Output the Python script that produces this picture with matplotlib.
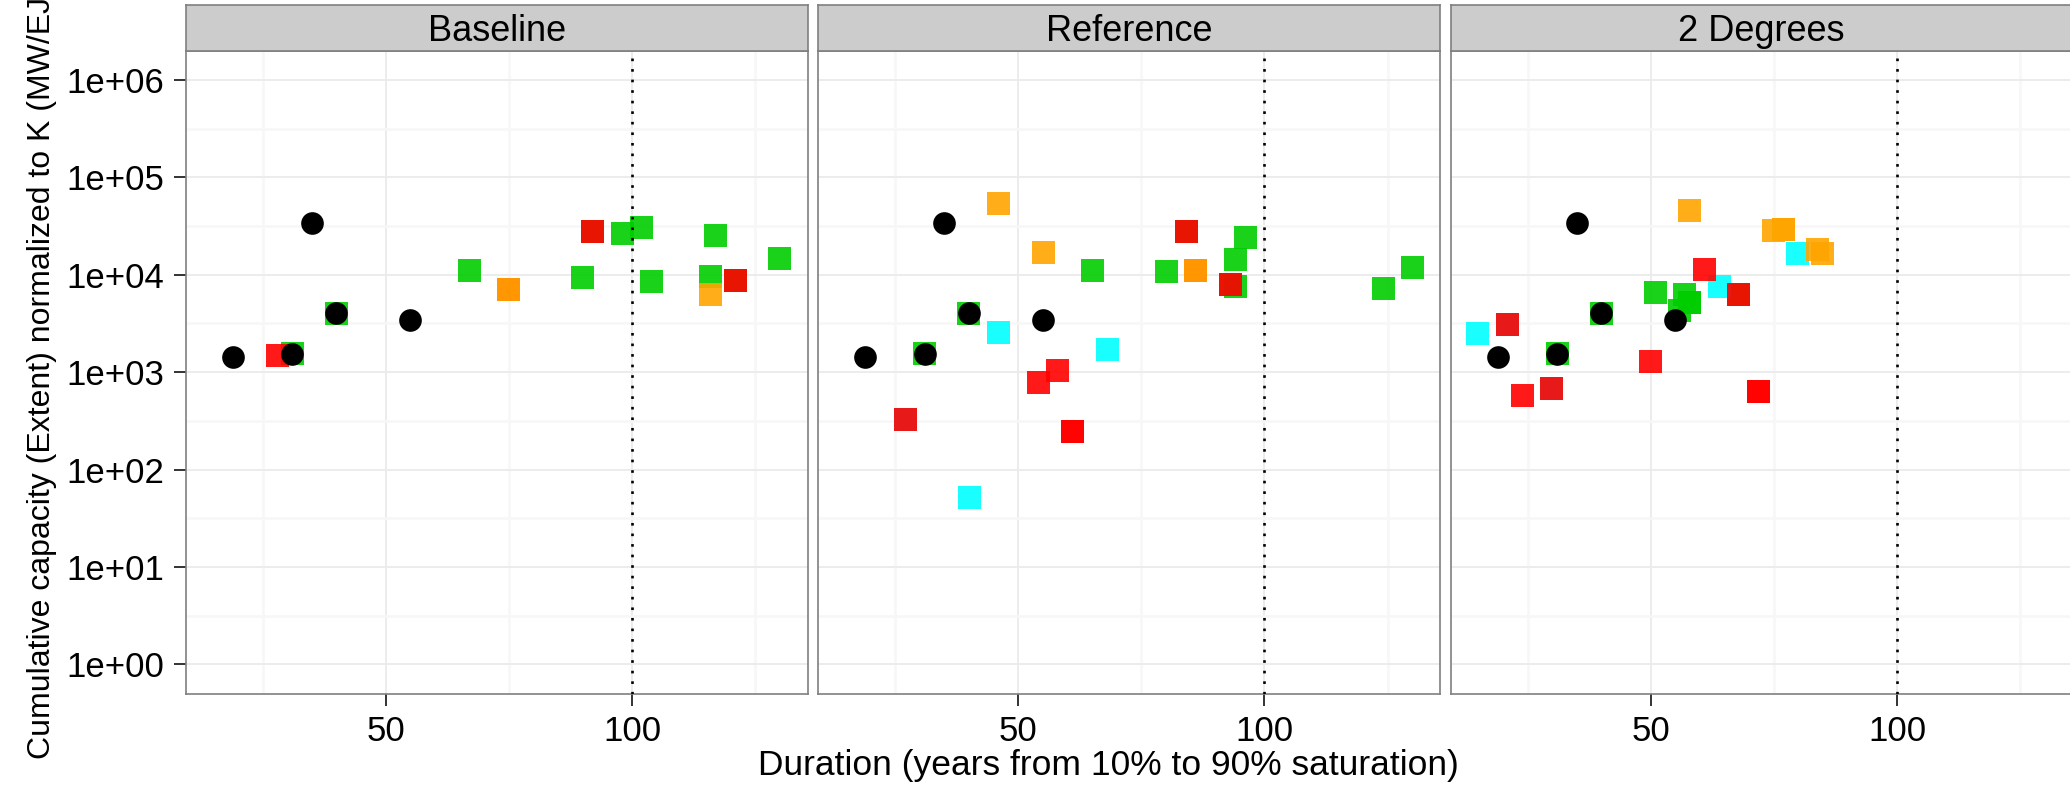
import matplotlib
matplotlib.use("Agg")
import matplotlib.pyplot as plt
from matplotlib.ticker import FixedLocator, NullFormatter

plt.rcParams['font.family'] = ['Liberation Sans', 'DejaVu Sans']

# ---------------- data ----------------
scenarios = ["Baseline", "Reference", "2 Degrees"]

# historical (black circles), identical in every panel
hist_x = [19.0, 31.0, 35.0, 40.0, 55.0]
hist_y = [1440, 1550, 33800, 4020, 3460]

# model results per scenario (drawn in list order)
base_x = [31.0, 40.0, 67.0, 89.95, 92.0, 98.07, 101.93, 103.96, 115.93, 116.95, 121.0, 129.94,
          74.9, 28.0, 92.0, 121.0,
          74.9, 115.93]
base_y = [1550, 4020, 11060, 9370, 27800, 26550, 30550, 8530, 9600, 25300, 8730, 14700,
          7060, 1483, 27800, 8730,
          7060, 6270]
base_tech = ["green"] * 12 + ["red"] * 4 + ["orange"] * 2

ref_x = [31.0, 40.0, 65.06, 80.09, 84.15, 93.08, 94.09, 94.09, 96.12, 124.1, 130.0,
         27.1, 40.1, 45.98, 68.11,
         85.97, 27.1, 57.96, 54.1, 61.0, 61.0, 84.15, 93.08,
         45.98, 55.12, 85.97]
ref_y = [1550, 4020, 11060, 10800, 27800, 7940, 7570, 14360, 24150, 7230, 11890,
         327, 51.6, 2553, 1710,
         11060, 327, 1040, 783, 246, 246, 27800, 7940,
         53900, 16930, 11060]
ref_tech = ["green"] * 11 + ["cyan"] * 4 + ["red"] * 8 + ["orange"] * 3

deg2_x = [31.0, 40.0, 51.06, 55.93, 56.94, 57.96, 57.96, 67.9,
          14.92, 21.01, 29.94, 64.05, 79.88,
          21.01, 24.06, 29.94, 50.04, 71.97, 71.97, 61.0, 67.9,
          57.96, 75.0, 77.04, 77.04, 83.94, 84.96]
deg2_y = [1550, 4020, 6580, 4300, 6270, 5190, 5190, 6270,
          2494, 3084, 679, 7570, 16520,
          3084, 576, 679, 1285, 633, 633, 11320, 6270,
          45700, 28500, 29200, 29200, 18150, 16520]
deg2_tech = ["green"] * 8 + ["cyan"] * 5 + ["red"] * 8 + ["orange"] * 6

panel_x = [base_x, ref_x, deg2_x]
panel_y = [base_y, ref_y, deg2_y]
panel_tech = [base_tech, ref_tech, deg2_tech]

x_major = [50, 100]
x_labels = ["50", "100"]
x_minor = [25, 75, 125]
y_major = [1, 10, 100, 1000, 1e4, 1e5, 1e6]
y_labels = ["1e+00", "1e+01", "1e+02", "1e+03", "1e+04", "1e+05", "1e+06"]
y_minor = [10 ** (k + 0.5) for k in range(6)]
vline_x = 100

xlabel = "Duration (years from 10% to 90% saturation)"
ylabel = "Cumulative capacity (Extent) normalized to K (MW/EJ)"

# ---------------- style ----------------
tech_colors = {"green": "#00CD00", "cyan": "#00FFFF", "red": "#FF0000", "orange": "#FFA500"}

W, H, DPI = 2070, 786, 100
fig = plt.figure(figsize=(W / DPI, H / DPI), dpi=DPI)
fig.patch.set_facecolor("white")


def fx(px):
    return px / W


def fy(py):
    return 1 - py / H


panel_left = [185.7, 818.2, 1450.7]
panel_w = 622.0
top, bot = 50.8, 693.5
strip_top = 5.0
border = "#7F7F7F"

for i, name in enumerate(scenarios):
    L = panel_left[i]
    ax = fig.add_axes([fx(L), fy(bot), panel_w / W, (bot - top) / H])
    ax.set_xlim(9.4, 135.67)
    ax.set_yscale("log")
    ax.set_ylim(10 ** -0.3, 10 ** 6.3)

    ax.xaxis.set_major_locator(FixedLocator(x_major))
    ax.xaxis.set_minor_locator(FixedLocator(x_minor))
    ax.set_xticklabels(x_labels)
    ax.xaxis.set_minor_formatter(NullFormatter())
    ax.yaxis.set_major_locator(FixedLocator(y_major))
    ax.yaxis.set_minor_locator(FixedLocator(y_minor))
    ax.yaxis.set_minor_formatter(NullFormatter())
    if i == 0:
        ax.set_yticklabels(y_labels)
    else:
        ax.set_yticklabels([])

    ax.grid(which="major", color="#EBEBEB", lw=1.3)
    ax.grid(which="minor", color="#F7F7F7", lw=1.8)
    ax.set_axisbelow(True)

    ax.tick_params(axis="x", which="major", length=8.6, width=1.4, color="#333333",
                   labelsize=25, pad=7, labelcolor="black")
    ax.tick_params(axis="y", which="major", length=8.6 if i == 0 else 0, width=1.4,
                   color="#333333", labelsize=25, pad=7, labelcolor="black")
    ax.tick_params(which="minor", length=0)

    for sp in ax.spines.values():
        sp.set_color(border)
        sp.set_linewidth(1.2)

    cols = [tech_colors[t] for t in panel_tech[i]]
    ax.scatter(panel_x[i], panel_y[i], marker="s", s=274, c=cols, alpha=0.9,
               linewidths=0, zorder=3)
    ax.scatter(hist_x, hist_y, marker="o", s=266, c="black", linewidths=0, zorder=4)
    ax.axvline(vline_x, color="black", lw=1.9, linestyle=(0, (1, 3)), zorder=5)

    sax = fig.add_axes([fx(L), fy(top), panel_w / W, (top - strip_top) / H])
    sax.set_facecolor("#CCCCCC")
    sax.set_xticks([])
    sax.set_yticks([])
    for sp in sax.spines.values():
        sp.set_color(border)
        sp.set_linewidth(1.2)
    sax.text(0.5, 0.22, name, transform=sax.transAxes, ha="center", va="baseline",
             fontsize=26, color="black")

fig.text(fx(1108), fy(775), xlabel, ha="center", va="baseline", fontsize=25.5)
fig.text(fx(27), fy((top + bot) / 2), ylabel, rotation=90, ha="left", va="center",
         fontsize=23)

fig.savefig("out.png", dpi=DPI)
